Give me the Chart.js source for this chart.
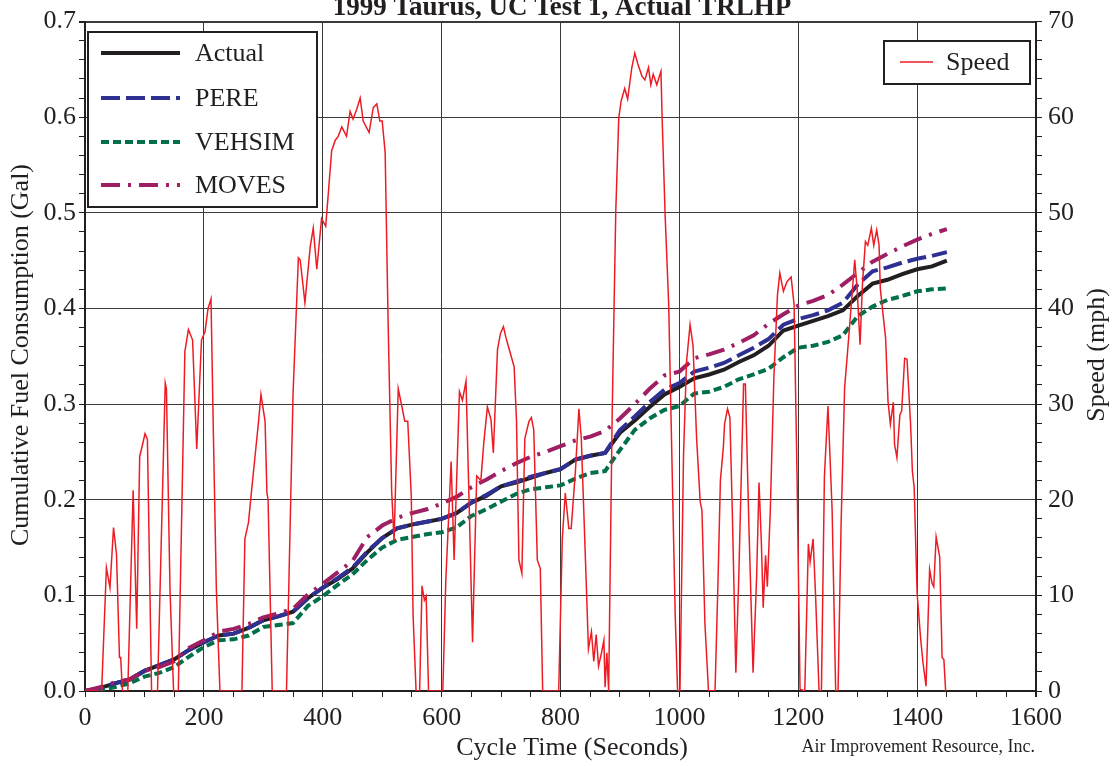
<!DOCTYPE html>
<html>
<head>
<meta charset="utf-8">
<script src="https://cdn.jsdelivr.net/npm/chart.js@4.4.1/dist/chart.umd.min.js"></script>
<style>
  body { margin: 0; background: #fff; }
  #myChart { display: block; }
</style>
</head>
<body>
<canvas id="myChart" width="1113" height="766"></canvas>
<script>
// cumulative fuel, every 25 s
var fuelTime = [0, 25, 50, 75, 100, 125, 150, 175, 200, 225, 250, 275, 300, 325, 350, 375, 400, 425, 450, 475,
  500, 525, 550, 575, 600, 625, 650, 675, 700, 725, 750, 775, 800, 825, 850, 875, 900, 925, 950, 975,
  1000, 1025, 1050, 1075, 1100, 1125, 1150, 1175, 1200, 1225, 1250, 1275, 1300, 1325, 1350, 1375, 1400, 1425, 1450];

var actualGal = [0, 0.003, 0.008, 0.012, 0.021, 0.027, 0.033, 0.043, 0.051, 0.058, 0.060, 0.066, 0.074, 0.078, 0.083, 0.097, 0.108, 0.117, 0.128, 0.145,
  0.160, 0.170, 0.174, 0.177, 0.180, 0.186, 0.197, 0.204, 0.214, 0.218, 0.223, 0.228, 0.232, 0.242, 0.246, 0.249, 0.270, 0.283, 0.297, 0.310,
  0.318, 0.327, 0.331, 0.336, 0.344, 0.351, 0.361, 0.377, 0.382, 0.387, 0.392, 0.398, 0.413, 0.426, 0.430, 0.436, 0.441, 0.444, 0.450];

var pereGal = [0, 0.003, 0.008, 0.012, 0.021, 0.027, 0.033, 0.043, 0.051, 0.058, 0.060, 0.066, 0.074, 0.078, 0.083, 0.097, 0.108, 0.118, 0.129, 0.146,
  0.160, 0.170, 0.174, 0.177, 0.180, 0.186, 0.197, 0.205, 0.214, 0.219, 0.224, 0.228, 0.232, 0.242, 0.246, 0.249, 0.273, 0.287, 0.302, 0.315,
  0.322, 0.334, 0.338, 0.343, 0.351, 0.359, 0.368, 0.383, 0.389, 0.393, 0.398, 0.406, 0.425, 0.439, 0.443, 0.448, 0.452, 0.455, 0.459];

var vehsimGal = [0, 0.001, 0.004, 0.008, 0.015, 0.019, 0.025, 0.036, 0.046, 0.053, 0.054, 0.058, 0.067, 0.069, 0.071, 0.089, 0.099, 0.111, 0.122, 0.137,
  0.150, 0.158, 0.161, 0.164, 0.166, 0.171, 0.183, 0.190, 0.198, 0.206, 0.211, 0.213, 0.215, 0.222, 0.228, 0.230, 0.252, 0.273, 0.285, 0.294,
  0.298, 0.311, 0.313, 0.318, 0.326, 0.331, 0.337, 0.349, 0.359, 0.361, 0.365, 0.372, 0.392, 0.402, 0.409, 0.413, 0.418, 0.420, 0.421];

var movesGal = [0, 0.004, 0.009, 0.012, 0.021, 0.025, 0.031, 0.045, 0.053, 0.062, 0.065, 0.070, 0.077, 0.081, 0.086, 0.101, 0.112, 0.124, 0.136, 0.161,
  0.173, 0.181, 0.186, 0.190, 0.196, 0.203, 0.213, 0.221, 0.230, 0.238, 0.245, 0.250, 0.256, 0.262, 0.266, 0.272, 0.285, 0.300, 0.316, 0.330,
  0.334, 0.348, 0.352, 0.357, 0.364, 0.372, 0.384, 0.394, 0.403, 0.408, 0.414, 0.425, 0.437, 0.449, 0.457, 0.465, 0.472, 0.478, 0.483];

// speed trace (mph), read point by point
var speedTime = [0, 28, 36, 42, 48, 53, 58, 60, 63, 72, 81, 87, 92, 101, 105, 112, 122, 135, 137, 143,
  149, 157, 168, 174, 181, 188, 196, 202, 207, 212, 216, 221, 227, 264, 269, 275, 280, 286, 292, 296,
  303, 306, 308, 315, 339, 350, 359, 362, 370, 379, 384, 390, 398, 405, 415, 421, 426, 432, 440, 446,
  451, 457, 463, 468, 478, 485, 491, 496, 500, 505, 510, 516, 520, 527, 533, 538, 543, 549, 552, 557,
  563, 567, 571, 574, 578, 602, 607, 616, 621, 630, 635, 641, 646, 652, 659, 666, 671, 677, 683, 687,
  694, 699, 704, 708, 713, 722, 726, 730, 735, 740, 747, 751, 755, 761, 766, 770, 797, 803, 808, 814,
  818, 825, 831, 835, 842, 847, 852, 856, 860, 864, 869, 873, 875, 878, 881, 887, 893, 898, 902, 908,
  913, 920, 925, 930, 937, 942, 948, 952, 956, 962, 969, 971, 976, 982, 987, 993, 997, 1001, 1007, 1012,
  1018, 1023, 1029, 1035, 1038, 1043, 1049, 1060, 1065, 1069, 1074, 1076, 1081, 1085, 1089, 1095, 1100, 1108, 1111, 1117,
  1124, 1130, 1134, 1138, 1141, 1145, 1148, 1153, 1159, 1165, 1169, 1175, 1181, 1188, 1193, 1198, 1203, 1211, 1217, 1220,
  1225, 1229, 1235, 1239, 1244, 1250, 1257, 1263, 1267, 1272, 1278, 1283, 1291, 1295, 1299, 1304, 1308, 1313, 1317, 1323,
  1327, 1332, 1336, 1338, 1344, 1347, 1351, 1355, 1360, 1362, 1366, 1371, 1374, 1379, 1383, 1389, 1392, 1395, 1400, 1406,
  1410, 1415, 1421, 1425, 1428, 1432, 1438, 1442, 1445, 1448];

var speedMph = [0, 0, 12.9, 10.8, 17.1, 14.3, 3.5, 3.5, 0, 0, 21.0, 6.5, 24.5, 26.9, 26.3, 0, 0, 32.2, 31.6, 10.6,
  0, 0, 35.5, 37.8, 36.7, 25.3, 36.7, 37.6, 40.0, 41.0, 26.9, 10.6, 0, 0, 15.9, 17.6, 20.8, 24.5, 28.2, 31.0,
  28.2, 20.8, 20.0, 0, 0, 31.0, 45.3, 45.1, 40.6, 46.5, 48.4, 44.1, 49.4, 48.6, 56.5, 57.6, 58.0, 59.0, 58.0, 60.6,
  59.8, 60.8, 62.0, 59.6, 58.4, 61.0, 61.4, 59.6, 59.6, 56.3, 38.4, 20.8, 15.7, 31.6, 29.8, 28.2, 28.2, 20.3, 7.9, 0,
  0, 11.0, 9.5, 9.9, 0, 0, 11.5, 24.0, 13.7, 31.3, 30.4, 32.4, 20.3, 5.1, 22.5, 22.0, 26.0, 29.7, 28.4, 24.9,
  35.7, 37.4, 38.1, 37.0, 35.9, 33.9, 28.2, 13.7, 12.3, 26.4, 28.2, 28.6, 27.3, 13.7, 12.8, 0, 0, 15.9, 20.7, 17.0,
  17.0, 22.9, 29.5, 26.4, 13.7, 4.4, 6.2, 3.1, 5.9, 2.6, 4.0, 5.3, 0.4, 4.0, 0, 29.1, 50.2, 59.9, 61.7, 63.0,
  61.9, 65.2, 66.7, 65.6, 64.3, 63.9, 65.2, 63.4, 64.5, 63.4, 64.8, 59.9, 49.8, 40.5, 25.6, 7.9, 0, 0, 24.7, 34.4,
  38.3, 36.1, 26.4, 19.8, 18.9, 7.0, 0, 0, 11.5, 22.0, 25.5, 27.9, 29.5, 28.6, 18.9, 1.9, 12.0, 32.1, 32.1, 17.2,
  1.9, 12.0, 21.8, 15.4, 8.7, 14.2, 10.9, 18.9, 32.8, 41.4, 43.7, 41.8, 42.8, 43.3, 40.4, 22.4, 0.2, 0, 15.4, 13.5,
  15.9, 10.2, 0, 0, 22.4, 29.8, 18.9, 0, 0, 17.2, 31.7, 35.5, 41.8, 45.1, 42.1, 36.2, 42.5, 47.0, 46.6, 48.4,
  46.6, 48.2, 46.6, 42.1, 38.6, 36.9, 30.3, 27.9, 30.2, 25.8, 24.4, 28.9, 29.3, 34.8, 34.7, 27.9, 23.0, 21.3, 10.2, 5.4,
  2.9, 0.5, 12.7, 11.3, 10.9, 16.1, 14.0, 3.5, 3.3, 0];

var seriesNames = ["Actual", "PERE", "VEHSIM", "MOVES"];
var xTickLabels = [0, 200, 400, 600, 800, 1000, 1200, 1400, 1600];

var INK = "#231f20";
var GRID = "#3a3a3a";
var SERIF = "'Liberation Serif', 'DejaVu Serif', serif";

function toPoints(xs, ys) {
  var pts = [];
  for (var i = 0; i < xs.length; i++) {
    pts.push({ x: xs[i], y: ys[i] });
  }
  return pts;
}

function fuelSet(label, ys, color, dash, order) {
  return {
    label: label,
    data: toPoints(fuelTime, ys),
    yAxisID: "y",
    borderColor: color,
    borderWidth: 4,
    borderDash: dash,
    borderCapStyle: "butt",
    pointRadius: 0,
    tension: 0,
    fill: false,
    order: order
  };
}

var speedSet = {
  label: "Speed",
  data: toPoints(speedTime, speedMph),
  yAxisID: "y1",
  borderColor: "#ed1c24",
  borderWidth: 1.5,
  pointRadius: 0,
  tension: 0,
  fill: false,
  order: 0
};

var data = {
  datasets: [
    speedSet,
    fuelSet(seriesNames[0], actualGal, INK, [], 4),
    fuelSet(seriesNames[1], pereGal, "#2e3192", [19, 6], 2),
    fuelSet(seriesNames[2], vehsimGal, "#00704a", [8, 4], 3),
    fuelSet(seriesNames[3], movesGal, "#9e1f63", [19, 8, 3, 8], 1)
  ]
};

function isMultiple(v, step) {
  var r = v / step;
  return Math.abs(r - Math.round(r)) < 1e-6;
}

// titles, legend boxes and credit line
var decorPlugin = {
  id: "decor",
  afterDraw: function (chart) {
    var ctx = chart.ctx;
    ctx.save();
    ctx.fillStyle = INK;

    ctx.font = "bold 27px " + SERIF;
    ctx.textAlign = "center";
    ctx.textBaseline = "alphabetic";
    ctx.fillText("1999 Taurus, UC Test 1, Actual TRLHP", 562, 15);

    ctx.font = "26px " + SERIF;
    ctx.textBaseline = "middle";
    ctx.fillText("Cycle Time (Seconds)", 572, 748);

    ctx.save();
    ctx.translate(21, 355);
    ctx.rotate(-Math.PI / 2);
    ctx.fillText("Cumulative Fuel Consumption (Gal)", 0, 0);
    ctx.restore();

    ctx.save();
    ctx.translate(1097, 355);
    ctx.rotate(-Math.PI / 2);
    ctx.fillText("Speed (mph)", 0, 0);
    ctx.restore();

    ctx.font = "18px " + SERIF;
    ctx.textAlign = "right";
    ctx.textBaseline = "alphabetic";
    ctx.fillText("Air Improvement Resource, Inc.", 1035, 752);

    // left legend box
    ctx.fillStyle = "#fff";
    ctx.fillRect(88, 32, 229, 175);
    ctx.strokeStyle = INK;
    ctx.lineWidth = 2;
    ctx.setLineDash([]);
    ctx.strokeRect(88, 32, 229, 175);
    var rows = [53, 98, 142, 185];
    for (var i = 0; i < 4; i++) {
      var ds = chart.data.datasets[i + 1];
      ctx.beginPath();
      ctx.strokeStyle = ds.borderColor;
      ctx.lineWidth = 4;
      ctx.setLineDash(ds.borderDash);
      ctx.moveTo(101, rows[i]);
      ctx.lineTo(180, rows[i]);
      ctx.stroke();
      ctx.setLineDash([]);
      ctx.fillStyle = INK;
      ctx.font = "26px " + SERIF;
      ctx.textAlign = "left";
      ctx.textBaseline = "middle";
      ctx.fillText(ds.label, 195, rows[i] + 1);
    }

    // right legend box
    ctx.fillStyle = "#fff";
    ctx.fillRect(884, 41, 146, 43);
    ctx.strokeStyle = INK;
    ctx.lineWidth = 2;
    ctx.strokeRect(884, 41, 146, 43);
    ctx.beginPath();
    ctx.strokeStyle = speedSet.borderColor;
    ctx.lineWidth = 1.5;
    ctx.moveTo(900, 62);
    ctx.lineTo(933, 62);
    ctx.stroke();
    ctx.fillStyle = INK;
    ctx.fillText("Speed", 946, 63);

    ctx.restore();
  }
};

var config = {
  type: "line",
  data: data,
  plugins: [decorPlugin],
  options: {
    responsive: false,
    animation: false,
    devicePixelRatio: 1,
    layout: { padding: { top: 18, left: 0, right: 0, bottom: 0 } },
    plugins: {
      legend: { display: false },
      title: { display: false },
      tooltip: { enabled: false }
    },
    scales: {
      x: {
        type: "linear",
        min: 0,
        max: 1600,
        afterFit: function (scale) { scale.height = 75; },
        border: { display: true, color: INK, width: 2 },
        grid: {
          color: function (c) { return isMultiple(c.tick.value, 200) ? GRID : "rgba(0,0,0,0)"; },
          lineWidth: function (c) { return c.tick.value === 1600 ? 2 : 1; },
          tickColor: INK,
          tickLength: 6
        },
        ticks: {
          stepSize: 50,
          autoSkip: false,
          maxRotation: 0,
          padding: 6,
          color: INK,
          font: { family: SERIF, size: 26 },
          callback: function (v) { return xTickLabels.indexOf(v) >= 0 ? String(v) : ""; }
        }
      },
      y: {
        type: "linear",
        position: "left",
        min: 0,
        max: 0.7,
        afterFit: function (scale) { scale.width = 85; },
        border: { display: true, color: INK, width: 2 },
        grid: {
          color: function (c) { return isMultiple(c.tick.value, 0.1) ? GRID : "rgba(0,0,0,0)"; },
          lineWidth: function (c) { return Math.abs(c.tick.value - 0.7) < 1e-6 ? 2 : 1; },
          tickColor: INK,
          tickLength: 6
        },
        ticks: {
          stepSize: 0.02,
          autoSkip: false,
          padding: 3,
          color: INK,
          font: { family: SERIF, size: 26 },
          callback: function (v) { return isMultiple(v, 0.1) ? v.toFixed(1) : ""; }
        }
      },
      y1: {
        type: "linear",
        position: "right",
        min: 0,
        max: 70,
        afterFit: function (scale) { scale.width = 77; },
        border: { display: true, color: INK, width: 2 },
        grid: {
          drawOnChartArea: false,
          tickColor: INK,
          tickLength: 6
        },
        ticks: {
          stepSize: 2,
          autoSkip: false,
          padding: 6,
          color: INK,
          font: { family: SERIF, size: 26 },
          callback: function (v) { return isMultiple(v, 10) ? String(v) : ""; }
        }
      }
    }
  }
};

var myChart = new Chart(document.getElementById("myChart"), config);
</script>
</body>
</html>
